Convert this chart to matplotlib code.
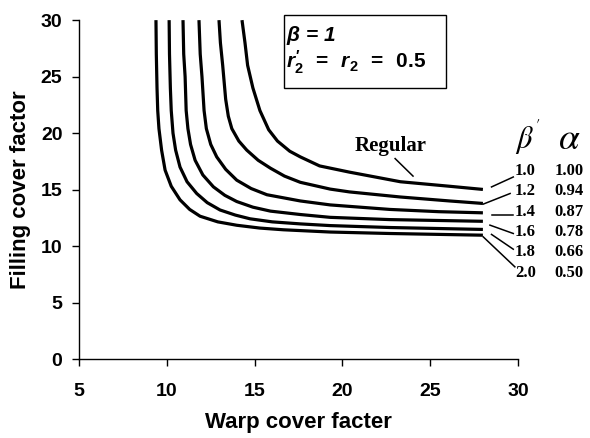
import matplotlib.pyplot as plt
from matplotlib.patches import Rectangle

warp_10 = [14.28, 14.45, 14.6, 14.9, 15.3, 15.8, 16.3, 17.0, 17.6, 18.7, 20.4, 23.3, 26.1, 28.0]
fill_10 = [30, 28, 26, 24, 22, 20.3, 19.3, 18.4, 17.9, 17.1, 16.55, 15.7, 15.3, 15.02]

warp_12 = [12.97, 13.05, 13.18, 13.35, 13.5, 13.7, 14.1, 14.55, 15.2, 15.9, 16.7, 17.6, 19.3, 20.4, 23.3, 26.1, 28.0]
fill_12 = [30, 28, 26, 23, 21.5, 20.4, 19.3, 18.5, 17.6, 16.9, 16.2, 15.65, 15.05, 14.8, 14.35, 14.0, 13.78]

warp_14 = [11.83, 11.9, 12.0, 12.12, 12.25, 12.5, 12.84, 13.35, 13.98, 14.8, 15.7, 17.6, 19.3, 22.7, 25.5, 28.0]
fill_14 = [30, 27, 25, 22, 20.4, 19.0, 17.9, 16.8, 15.84, 15.1, 14.55, 14.0, 13.65, 13.25, 13.05, 12.95]

warp_16 = [10.92, 10.96, 11.04, 11.1, 11.2, 11.35, 11.61, 12.05, 12.65, 13.3, 13.98, 14.9, 15.9, 17.6, 19.3, 22.7, 28.0]
fill_16 = [30, 27, 25, 22, 20.4, 19.0, 17.6, 16.3, 15.25, 14.5, 13.95, 13.45, 13.1, 12.8, 12.55, 12.35, 12.2]

warp_18 = [10.13, 10.15, 10.2, 10.25, 10.35, 10.5, 10.75, 11.15, 11.7, 12.3, 13.03, 13.9, 14.74, 16.0, 17.6, 19.3, 22.7, 28.0]
fill_18 = [30, 27, 24, 22, 20.0, 18.5, 17.0, 15.7, 14.66, 13.85, 13.2, 12.75, 12.42, 12.15, 11.97, 11.82, 11.65, 11.48]

warp_20 = [9.38, 9.4, 9.44, 9.48, 9.55, 9.7, 9.9, 10.25, 10.75, 11.3, 11.89, 12.9, 13.98, 15.3, 16.63, 19.3, 22.7, 28.0]
fill_20 = [30, 27, 24, 22, 20.4, 18.5, 16.73, 15.3, 14.1, 13.25, 12.65, 12.15, 11.85, 11.6, 11.45, 11.25, 11.12, 10.97]

beta_prime = ['1.0', '1.2', '1.4', '1.6', '1.8', '2.0']
alpha = ['1.00', '0.94', '0.87', '0.78', '0.66', '0.50']

plt.rcParams['mathtext.fontset'] = 'custom'
plt.rcParams['mathtext.it'] = 'Liberation Sans:italic:bold'
plt.rcParams['mathtext.rm'] = 'Liberation Sans:bold'
plt.rcParams['mathtext.bf'] = 'Liberation Sans:bold'

fig = plt.figure(figsize=(5.9, 4.38), dpi=100)
ax = fig.add_axes([0.134, 0.180, 0.744, 0.774])

curves = [(warp_10, fill_10), (warp_12, fill_12), (warp_14, fill_14),
          (warp_16, fill_16), (warp_18, fill_18), (warp_20, fill_20)]
for xs, ys in curves:
    ax.plot(xs, ys, color='black', lw=2.3, solid_capstyle='butt', clip_on=False)

ax.set_xlim(5, 30)
ax.set_ylim(0, 30)
ax.set_xticks([5, 10, 15, 20, 25, 30])
ax.set_yticks([0, 5, 10, 15, 20, 25, 30])
for s in ['top', 'right']:
    ax.spines[s].set_visible(False)
for s in ['left', 'bottom']:
    ax.spines[s].set_linewidth(1.0)
ax.tick_params(axis='x', direction='out', length=5, width=1, pad=12)
ax.tick_params(axis='y', direction='out', length=5, width=1, pad=7)
for lab in ax.get_xticklabels() + ax.get_yticklabels():
    lab.set_family('Liberation Sans')
    lab.set_fontweight('bold')
    lab.set_fontsize(14)

ax.set_xlabel('Warp cover facter', family='Liberation Sans', fontweight='bold', fontsize=16, labelpad=9)
ax.set_ylabel('Filling cover factor', family='Liberation Sans', fontweight='bold', fontsize=16, labelpad=7)

# parameter box
ax.add_patch(Rectangle((0.467, 0.799), 0.369, 0.216, transform=ax.transAxes,
                       fill=False, edgecolor='black', lw=1.0, clip_on=False))
ax.text(0.471, 0.955, r'$\beta$ = 1', transform=ax.transAxes, fontsize=15,
        family='Liberation Sans', fontweight='bold', style='italic', va='center')
ax.text(0.471, 0.875, r"$r_2^{\prime}\ \,=\ \,r_2\ \,=\ \,0.5$", transform=ax.transAxes,
        fontsize=15, va='center')

# Regular label
ax.text(22.77, 18.9, 'Regular', family='Liberation Serif', fontweight='bold', fontsize=15,
        ha='center', va='center')
ax.plot([23.0, 24.02], [17.75, 16.2], color='black', lw=1.1)

# header of the right-hand table
ax.text(30.57, 19.6, r"$\beta^{'}$", fontsize=22, math_fontfamily='stix',
        ha='center', va='center', clip_on=False)
ax.text(32.9, 19.5, r"$\alpha$", fontsize=27, math_fontfamily='stix',
        ha='center', va='center', clip_on=False)

# leader lines from curve ends to the labels
leaders = [((28.49, 29.73), (15.24, 16.12)),
           ((28.02, 29.55), (13.72, 14.66)),
           ((28.49, 29.73), (12.74, 12.74)),
           ((28.40, 29.73), (11.86, 11.12)),
           ((28.49, 29.73), (11.04, 9.73)),
           ((28.02, 29.82), (10.82, 8.17))]
for (lx, ly) in leaders:
    ax.plot(lx, ly, color='black', lw=1.1, clip_on=False)

for i in range(len(beta_prime)):
    row_y = 16.64 - 1.8 * i
    ax.text(30.42, row_y, beta_prime[i], family='Liberation Serif', fontweight='bold',
            fontsize=12, ha='center', va='center', clip_on=False)
    ax.text(32.9, row_y, alpha[i], family='Liberation Serif', fontweight='bold',
            fontsize=12, ha='center', va='center', clip_on=False)

fig.savefig('out.png', dpi=100)
